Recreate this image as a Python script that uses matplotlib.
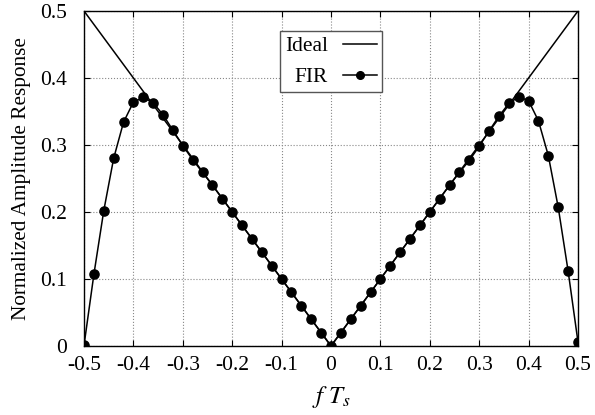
import numpy as np
import matplotlib
matplotlib.use("Agg")
import matplotlib.pyplot as plt

plt.rcParams['font.family'] = ['Liberation Serif', 'DejaVu Serif']
plt.rcParams['mathtext.fontset'] = 'stix'
plt.rcParams['axes.unicode_minus'] = False

# normalized frequency f*Ts
freq = [-0.50, -0.48, -0.46, -0.44, -0.42, -0.40, -0.38, -0.36, -0.34, -0.32,
        -0.30, -0.28, -0.26, -0.24, -0.22, -0.20, -0.18, -0.16, -0.14, -0.12,
        -0.10, -0.08, -0.06, -0.04, -0.02, 0.00, 0.02, 0.04, 0.06, 0.08,
        0.10, 0.12, 0.14, 0.16, 0.18, 0.20, 0.22, 0.24, 0.26, 0.28,
        0.30, 0.32, 0.34, 0.36, 0.38, 0.40, 0.42, 0.44, 0.46, 0.48, 0.50]
# FIR amplitude response
fir = [0.001, 0.107, 0.202, 0.280, 0.334, 0.364, 0.371, 0.363, 0.345, 0.322,
       0.299, 0.278, 0.259, 0.240, 0.220, 0.200, 0.180, 0.160, 0.140, 0.120,
       0.100, 0.080, 0.060, 0.040, 0.020, 0.000, 0.020, 0.040, 0.060, 0.080,
       0.100, 0.120, 0.140, 0.160, 0.180, 0.200, 0.220, 0.240, 0.259, 0.277,
       0.298, 0.321, 0.343, 0.362, 0.372, 0.366, 0.336, 0.284, 0.207, 0.112, 0.006]
# ideal response |f|
ideal_f = [-0.5, 0.0, 0.5]
ideal_a = [0.5, 0.0, 0.5]

xticks = [-0.5, -0.4, -0.3, -0.2, -0.1, 0, 0.1, 0.2, 0.3, 0.4, 0.5]
xlabels = ['-0.5', '-0.4', '-0.3', '-0.2', '-0.1', '0', '0.1', '0.2', '0.3', '0.4', '0.5']
yticks = [0, 0.1, 0.2, 0.3, 0.4, 0.5]
ylabels = ['0', '0.1', '0.2', '0.3', '0.4', '0.5']

fig = plt.figure(figsize=(5.95, 4.15), dpi=100)
ax = fig.add_axes([0.1412, 0.1663, 0.8302, 0.8072])

ax.plot(ideal_f, ideal_a, 'k-', lw=1.1, label='Ideal')
ax.plot(freq, fir, 'k-', marker='o', ms=6.6, lw=1.1, label='FIR')

ax.set_xlim(-0.5, 0.5)
ax.set_ylim(0, 0.5)
ax.set_xticks(xticks)
ax.set_xticklabels(xlabels)
ax.set_yticks(yticks)
ax.set_yticklabels(ylabels)
ax.tick_params(direction='in', top=True, right=True, labelsize=15.5, length=4)
ax.tick_params(axis='y', pad=12)
ax.tick_params(axis='x', pad=7)
ax.grid(True, ls=':', color='#888888', lw=0.8)
for s in ax.spines.values():
    s.set_linewidth(1.0)
ax.set_clip_on(False)

ax.set_xlabel(r'$f\ T_s$', fontsize=18, labelpad=7)
ax.set_ylabel('Normalized Amplitude Response', fontsize=15.3, labelpad=7)

leg = ax.legend(loc='upper center', bbox_to_anchor=(0.5, 0.94), borderaxespad=0,
                markerfirst=False, fancybox=False, edgecolor='#555555', framealpha=1,
                fontsize=15.4, handlelength=1.6, borderpad=0.25, labelspacing=0.5,
                handletextpad=0.7)
leg.get_frame().set_linewidth(1.0)
for h in leg.legend_handles:
    if h.get_marker() == 'o':
        h.set_markersize(5.5)

fig.savefig('out.png')
